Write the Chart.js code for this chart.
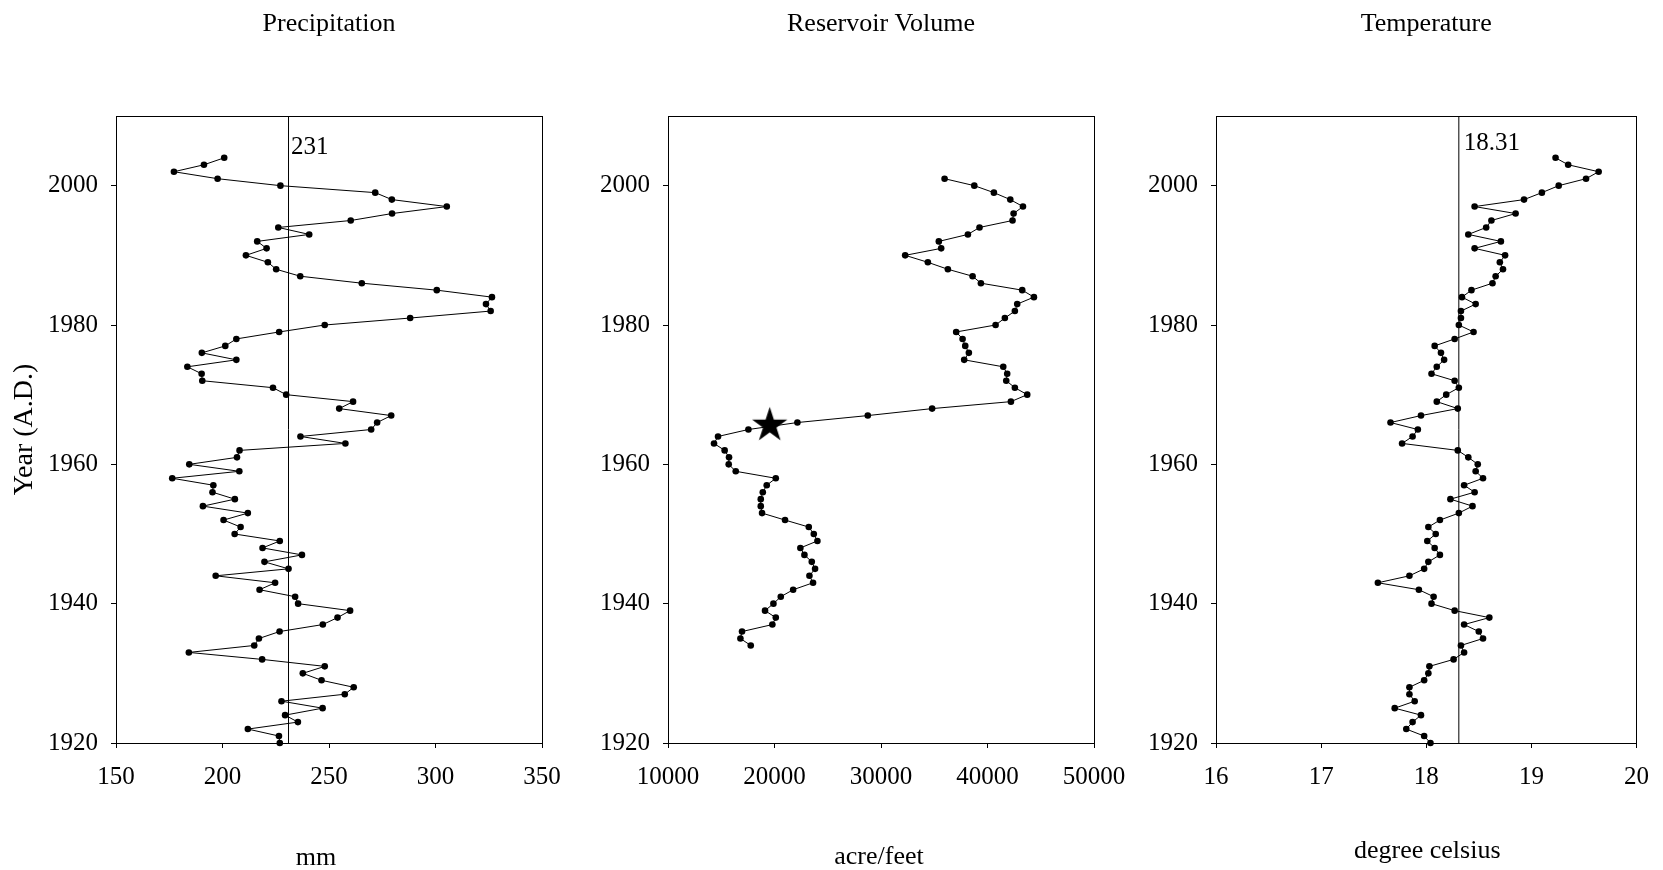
<!DOCTYPE html>
<html>
<head>
<meta charset="utf-8">
<title>Precipitation, Reservoir Volume and Temperature</title>
<script src="https://cdn.jsdelivr.net/npm/chart.js@4/dist/chart.umd.min.js"></script>
<style>
  html, body { margin: 0; padding: 0; background: #fff; }
  #wrap { position: relative; width: 1663px; height: 870px; overflow: hidden; }
  #wrap canvas { position: absolute; left: 0; top: 0; width: 1663px; height: 870px; }
</style>
</head>
<body>
<div id="wrap">
  <canvas id="precipChart" width="1663" height="870"></canvas>
  <canvas id="reservoirChart" width="1663" height="870"></canvas>
  <canvas id="tempChart" width="1663" height="870"></canvas>
</div>
<script>
// ---- data -------------------------------------------------------------
const yearTicks = [1920, 1940, 1960, 1980, 2000];
const yearRange = [1920, 2010];

// Annual precipitation (mm), 1920-2004
const precipYears = [
  1920, 1921, 1922, 1923, 1924, 1925, 1926, 1927, 1928, 1929,
  1930, 1931, 1932, 1933, 1934, 1935, 1936, 1937, 1938, 1939,
  1940, 1941, 1942, 1943, 1944, 1945, 1946, 1947, 1948, 1949,
  1950, 1951, 1952, 1953, 1954, 1955, 1956, 1957, 1958, 1959,
  1960, 1961, 1962, 1963, 1964, 1965, 1966, 1967, 1968, 1969,
  1970, 1971, 1972, 1973, 1974, 1975, 1976, 1977, 1978, 1979,
  1980, 1981, 1982, 1983, 1984, 1985, 1986, 1987, 1988, 1989,
  1990, 1991, 1992, 1993, 1994, 1995, 1996, 1997, 1998, 1999,
  2000, 2001, 2002, 2003, 2004
];
const precipValues = [
  226.9, 226.5, 211.9, 235.4, 229.4, 247.0, 227.7, 257.4, 261.6, 246.5,
  237.7, 248.0, 218.6, 184.2, 214.9, 217.1, 226.8, 247.1, 254.0, 259.9,
  235.5, 234.1, 217.4, 224.7, 196.8, 231.0, 219.7, 237.3, 218.8, 226.9,
  205.7, 208.5, 200.5, 211.9, 190.8, 205.8, 195.3, 195.7, 176.4, 207.9,
  184.4, 206.8, 208.0, 257.7, 236.6, 269.8, 272.6, 279.2, 254.8, 261.3,
  229.9, 223.7, 190.5, 190.2, 183.5, 206.5, 190.3, 201.3, 206.5, 226.6,
  248.0, 288.1, 325.9, 323.7, 326.5, 300.6, 265.4, 236.5, 225.2, 221.3,
  211.0, 220.7, 216.3, 240.7, 226.2, 260.2, 279.6, 305.3, 279.5, 271.7,
  227.2, 197.7, 177.2, 191.3, 200.8
];
const precipMean = 231;
const precipTicks = [150, 200, 250, 300, 350];

// Reservoir volume (acre/feet), 1934-2001
const reservoirYears = [
  1934, 1935, 1936, 1937, 1938, 1939,
  1940, 1941, 1942, 1943, 1944, 1945, 1946, 1947, 1948, 1949,
  1950, 1951, 1952, 1953, 1954, 1955, 1956, 1957, 1958, 1959,
  1960, 1961, 1962, 1963, 1964, 1965, 1966, 1967, 1968, 1969,
  1970, 1971, 1972, 1973, 1974, 1975, 1976, 1977, 1978, 1979,
  1980, 1981, 1982, 1983, 1984, 1985, 1986, 1987, 1988, 1989,
  1990, 1991, 1992, 1993, 1994, 1995, 1996, 1997, 1998, 1999,
  2000, 2001
];
const reservoirValues = [
  17770, 16800, 16950, 19800, 20120, 19110,
  19900, 20590, 21750, 23620, 23280, 23810, 23500, 22810, 22430, 24030,
  23690, 23220, 20990, 18830, 18710, 18710, 18900, 19270, 20120, 16360,
  15700, 15730, 15320, 14320, 14700, 17550, 22150, 28760, 34800, 42200,
  43730, 42570, 41760, 41850, 41480, 37810, 38250, 37910, 37660, 37060,
  40760, 41630, 42570, 42790, 44360, 43260, 39380, 38600, 36280, 34400,
  32270, 35650, 35430, 38160, 39250, 42350, 42450, 43330, 42140, 40600,
  38760, 35970
];
const starYear = 1965.6;
const starVolume = 19550;
const reservoirTicks = [10000, 20000, 30000, 40000, 50000];

// Mean annual temperature (degree celsius), 1920-2004
const tempYears = precipYears.slice();
const tempValues = [
  18.04, 17.98, 17.81, 17.87, 17.95, 17.70, 17.89, 17.84, 17.84, 17.98,
  18.02, 18.03, 18.26, 18.36, 18.33, 18.54, 18.50, 18.36, 18.60, 18.27,
  18.05, 18.07, 17.93, 17.54, 17.84, 17.98, 18.02, 18.13, 18.08, 18.01,
  18.09, 18.02, 18.13, 18.31, 18.44, 18.23, 18.46, 18.36, 18.54, 18.47,
  18.49, 18.40, 18.30, 17.77, 17.87, 17.92, 17.66, 17.95, 18.30, 18.10,
  18.19, 18.31, 18.27, 18.05, 18.10, 18.17, 18.14, 18.08, 18.27, 18.45,
  18.31, 18.33, 18.33, 18.47, 18.34, 18.43, 18.63, 18.66, 18.73, 18.70,
  18.75, 18.46, 18.71, 18.40, 18.57, 18.62, 18.85, 18.46, 18.93, 19.10,
  19.26, 19.52, 19.64, 19.35, 19.23
];
const tempMean = 18.31;
const tempTicks = [16, 17, 18, 19, 20];

// ---- drawing helpers ---------------------------------------------------
const SERIF = "'Liberation Serif', 'Times New Roman', Times, serif";
const PAGE_W = 1663, PAGE_H = 870;
const PLOT_TOP = 116, PLOT_BOTTOM = 743;
const X_AXIS_H = 60;

function toPoints(years, values) {
  return years.map((y, i) => ({ x: values[i], y: y }));
}

function starImage(R) {
  const size = Math.ceil(2 * R + 2);
  const c = document.createElement('canvas');
  c.width = size; c.height = size;
  const g = c.getContext('2d');
  const cx = size / 2, cy = size / 2;
  g.beginPath();
  for (let i = 0; i < 10; i++) {
    const r = (i % 2) ? R * 0.382 : R;
    const a = -Math.PI / 2 + i * Math.PI / 5;
    g.lineTo(cx + r * Math.cos(a), cy + r * Math.sin(a));
  }
  g.closePath();
  g.fillStyle = '#000';
  g.fill();
  return c;
}

const align = v => Math.round(v - 0.5) + 0.5;

// Frame around the plot area, panel title, axis caption and mean-line label
const panelText = {
  id: 'panelText',
  beforeDatasetsDraw(chart) {
    const { ctx, chartArea: a } = chart;
    ctx.save();
    ctx.strokeStyle = '#000';
    ctx.lineWidth = 1;
    const l = align(a.left), t = align(a.top), r = align(a.right), b = align(a.bottom);
    ctx.strokeRect(l, t, r - l, b - t);
    ctx.restore();
  },
  afterDraw(chart, args, opts) {
    const { ctx, chartArea: a } = chart;
    const cx = (a.left + a.right) / 2;
    ctx.save();
    ctx.fillStyle = '#000';
    ctx.textBaseline = 'alphabetic';
    ctx.textAlign = 'center';
    ctx.font = '26px ' + SERIF;
    ctx.fillText(opts.title, cx, a.top + opts.titleDy);
    ctx.fillText(opts.xLabel, cx + opts.xLabelDx, opts.xLabelBaseline);
    if (opts.meanValue !== undefined) {
      ctx.textAlign = 'left';
      ctx.font = '25px ' + SERIF;
      const x = chart.scales.x.getPixelForValue(opts.meanValue);
      ctx.fillText(String(opts.meanValue), x + opts.meanDx, a.top + opts.meanDy);
    }
    ctx.restore();
  }
};

function axisCommon() {
  return {
    grid: { drawOnChartArea: false, drawTicks: true, tickLength: 5, color: '#000', lineWidth: 1 },
    border: { display: true, color: '#000', width: 1 }
  };
}

function makePanel(cfg) {
  const yAxisW = cfg.yTitle ? cfg.plotLeft : 80;
  const yScale = Object.assign(axisCommon(), {
    type: 'linear',
    min: yearRange[0],
    max: yearRange[1],
    afterBuildTicks: s => { s.ticks = yearTicks.map(v => ({ value: v })); },
    afterFit: s => { s.width = yAxisW; },
    ticks: {
      color: '#000', padding: 13, autoSkip: false,
      font: { family: SERIF, size: 25 },
      callback: v => String(v)
    },
    title: cfg.yTitle ? {
      display: true, text: cfg.yTitle, color: '#000',
      font: { family: SERIF, size: 28 }, padding: { top: 8, bottom: 0 }
    } : { display: false }
  });
  const xScale = Object.assign(axisCommon(), {
    type: 'linear',
    min: cfg.xTicks[0],
    max: cfg.xTicks[cfg.xTicks.length - 1],
    afterBuildTicks: s => { s.ticks = cfg.xTicks.map(v => ({ value: v })); },
    afterFit: s => { s.height = X_AXIS_H; },
    ticks: {
      color: '#000', padding: 14, autoSkip: false, maxRotation: 0,
      font: { family: SERIF, size: 25 },
      callback: v => String(v)
    }
  });

  return new Chart(document.getElementById(cfg.canvasId), {
    type: 'scatter',
    data: { datasets: cfg.datasets },
    options: {
      responsive: false,
      animation: false,
      devicePixelRatio: 1,
      events: [],
      layout: {
        padding: {
          left: cfg.plotLeft - yAxisW,
          right: PAGE_W - cfg.plotRight,
          top: PLOT_TOP,
          bottom: PAGE_H - PLOT_BOTTOM - X_AXIS_H
        }
      },
      scales: { x: xScale, y: yScale },
      plugins: {
        legend: { display: false },
        tooltip: { enabled: false },
        title: { display: false },
        panelText: cfg.text
      }
    },
    plugins: [panelText]
  });
}

function seriesDataset(points) {
  return {
    data: points,
    showLine: true,
    borderColor: '#000',
    borderWidth: 1,
    pointRadius: 3.3,
    pointBackgroundColor: '#000',
    pointBorderWidth: 0,
    clip: false
  };
}

function meanLineDataset(value) {
  return {
    data: yearRange.map(y => ({ x: value, y: y })),
    showLine: true,
    borderColor: '#000',
    borderWidth: 1,
    pointRadius: 0,
    clip: false
  };
}

// ---- panels -------------------------------------------------------------
makePanel({
  canvasId: 'precipChart',
  plotLeft: 116, plotRight: 542,
  xTicks: precipTicks,
  yTitle: 'Year (A.D.)',
  datasets: [
    meanLineDataset(precipMean),
    seriesDataset(toPoints(precipYears, precipValues))
  ],
  text: {
    title: 'Precipitation', titleDy: -85,
    xLabel: 'mm', xLabelDx: -13, xLabelBaseline: 865,
    meanValue: precipMean, meanDx: 2.5, meanDy: 38
  }
});

makePanel({
  canvasId: 'reservoirChart',
  plotLeft: 668, plotRight: 1094,
  xTicks: reservoirTicks,
  datasets: [
    seriesDataset(toPoints(reservoirYears, reservoirValues)),
    {
      data: [{ x: starVolume, y: starYear }],
      showLine: false,
      pointStyle: starImage(18.5),
      pointRadius: 18,
      clip: false
    }
  ],
  text: {
    title: 'Reservoir Volume', titleDy: -85,
    xLabel: 'acre/feet', xLabelDx: -2, xLabelBaseline: 864
  }
});

makePanel({
  canvasId: 'tempChart',
  plotLeft: 1216, plotRight: 1642,
  xTicks: tempTicks,
  datasets: [
    meanLineDataset(tempMean),
    seriesDataset(toPoints(tempYears, tempValues))
  ],
  text: {
    title: 'Temperature', titleDy: -85,
    xLabel: 'degree celsius', xLabelDx: 1, xLabelBaseline: 858,
    meanValue: tempMean, meanDx: 5, meanDy: 34
  }
});
</script>
</body>
</html>
